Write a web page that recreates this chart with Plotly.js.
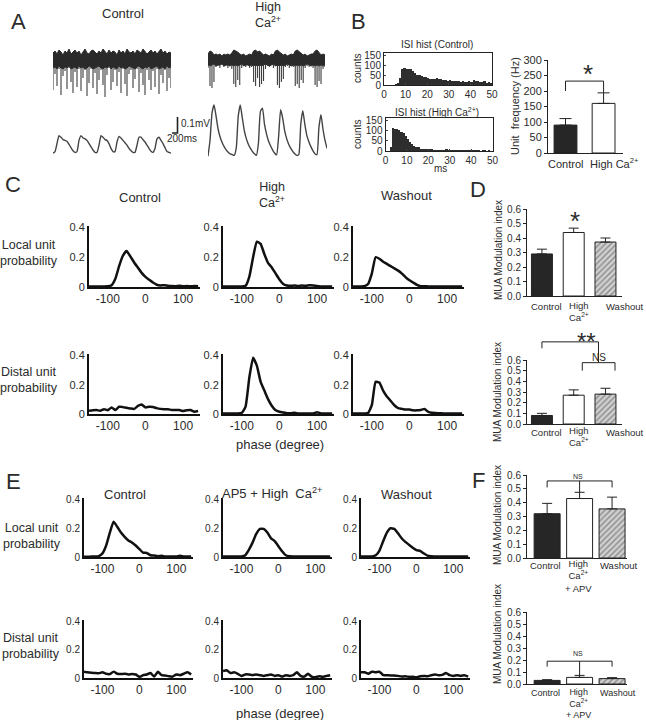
<!DOCTYPE html>
<html><head><meta charset="utf-8">
<script src="https://cdn.plot.ly/plotly-3.0.1.min.js"></script>
<style>html,body{margin:0;padding:0;background:#fff}#chart{width:646px;height:720px}</style>
</head><body><div id="chart"></div>
<script>
// ================= DATA =================
// Panel A: raw unit trace (arbitrary units): upper edge, lower edge of noise band, spike depths; LFP (mV)
const spikeCtrlTop=[7,9,6,10,8,5,9,7,11,6,8,10,7,9,5,8,11,7,6,9,10,8,6,9,7,11,8,6,10,7,9,8,5,10,7,9,6,11,8,7,9,6,10,8,7,11,9,6,8,10,7,9,6,8,11,7,9,6,8,7];
const spikeCtrlBand=[-8,-7,-9,-6,-8,-9,-7,-8,-6,-9,-8,-7,-9,-6,-8,-7,-9,-8,-6,-7,-9,-8,-7,-6,-8,-9,-7,-8,-6,-9,-7,-8,-9,-6,-8,-7,-9,-8,-6,-7,-8,-9,-7,-6,-8,-9,-7,-8,-6,-9,-8,-7,-6,-9,-8,-7,-9,-6,-8,-7];
const spikeCtrlBot=[-30,-14,-26,-9,-35,-16,-11,-29,-8,-22,-33,-12,-27,-9,-31,-18,-10,-36,-23,-9,-28,-13,-34,-20,-10,-25,-37,-15,-8,-30,-22,-10,-26,-12,-33,-9,-24,-36,-14,-10,-28,-19,-9,-32,-13,-25,-35,-10,-20,-30,-11,-27,-9,-34,-15,-23,-10,-31,-18,-28];
const spikeCaTop=[6,9,8,5,6,5,6,4,6,5,6,5,7,10,9,8,6,5,6,4,5,6,5,9,10,8,9,7,5,6,5,4,6,5,9,10,8,6,5,6,4,5,6,5,9,10,8,7,5,6,4,5,6,6,9,10,8,5,6,5];
const spikeCaBand=[-5,-6,-5,-4,-6,-5,-5,-4,-6,-5,-5,-6,-5,-6,-5,-6,-5,-4,-6,-5,-5,-6,-5,-6,-5,-6,-5,-6,-5,-4,-5,-6,-5,-4,-6,-5,-6,-5,-6,-5,-4,-5,-6,-5,-6,-5,-6,-5,-6,-5,-4,-5,-6,-5,-6,-5,-6,-5,-6,-5];
const spikeCaBot=[-8,-26,-28,-22,-7,-6,-8,-5,-7,-6,-8,-6,-9,-24,-27,-20,-25,-8,-6,-7,-5,-8,-7,-22,-26,-18,-27,-24,-21,-9,-6,-7,-5,-8,-6,-25,-28,-22,-19,-7,-6,-8,-5,-7,-26,-24,-28,-20,-23,-8,-6,-7,-5,-8,-25,-27,-21,-24,-9,-7];
const lfpCtrl=[0,0.01,0.06,0.11,0.1,0.085,0.08,0.075,0.055,0.035,0.015,0.005,0.01,0.08,0.11,0.095,0.09,0.08,0.06,0.04,0.02,0.005,0.005,0.05,0.11,0.1,0.085,0.08,0.06,0.03,0.01,0.01,0.07,0.105,0.095,0.08,0.065,0.05,0.03,0.015,0.005,0.005,0.05,0.1,0.1,0.085,0.07,0.05,0.03,0.012,0.005,0.03,0.09,0.1,0.08,0.06,0.035,0.01,0.005,0];
const lfpCa=[0,0.1,0.27,0.32,0.25,0.17,0.12,0.085,0.06,0.04,0.025,0.015,0.01,0.005,0.05,0.25,0.32,0.24,0.16,0.11,0.075,0.05,0.03,0.015,0.005,0.08,0.28,0.3,0.2,0.14,0.095,0.065,0.04,0.02,0.008,0.12,0.29,0.24,0.16,0.11,0.075,0.05,0.03,0.015,0.005,0.01,0.2,0.285,0.2,0.13,0.09,0.06,0.035,0.015,0.01,0.18,0.26,0.17,0.1,0.05];

// Panel B: ISI histograms (1 ms bins, left edges) and unit frequency
const isiBinMs=[0,1,2,3,4,5,6,7,8,9,10,11,12,13,14,15,16,17,18,19,20,21,22,23,24,25,26,27,28,29,30,31,32,33,34,35,36,37,38,39,40,41,42,43,44,45,46,47,48,49];
const isiControl=[0,0,0,0,2,5,12,35,80,86,82,78,80,70,62,52,50,45,40,42,35,30,28,30,33,30,28,25,25,20,25,22,18,20,18,15,18,15,15,20,15,25,20,18,15,15,18,12,15,12];
const isiHighCa=[0,0,20,110,108,105,100,92,85,72,60,45,35,25,20,18,12,10,10,12,8,8,6,5,6,5,4,5,8,6,4,3,4,3,4,3,3,4,3,4,3,4,3,3,2,3,3,2,3,2];
const isiTicksX=[0,10,20,30,40,50];
const isiTicksY=[0,50,100,150];
const freqCats=['Control','High Ca<sup>2+</sup>'];
const freqMean=[90,160];
const freqErr=[21,34];

// Panels C/E: phase histograms
const phaseDeg=[-150,-140,-130,-120,-110,-100,-90,-80,-70,-60,-50,-40,-30,-20,-10,0,10,20,30,40,50,60,70,80,90,100,110,120,130,140];
const phaseTicks=[-100,0,100];
const probTicks=[0,0.2,0.4];
const cLocalControl=[0.003,0.003,0.003,0.004,0.004,0.005,0.012,0.055,0.14,0.21,0.242,0.205,0.165,0.13,0.095,0.068,0.048,0.03,0.015,0.01,0.012,0.008,0.006,0.005,0.008,0.005,0.006,0.005,0.006,0.005];
const cLocalHighCa=[0.003,0.003,0.003,0.003,0.003,0.004,0.008,0.07,0.2,0.305,0.29,0.22,0.16,0.13,0.09,0.05,0.02,0.01,0.008,0.01,0.006,0.01,0.008,0.012,0.01,0.006,0.004,0.004,0.003,0.003];
const cLocalWashout=[0.003,0.003,0.004,0.006,0.02,0.09,0.2,0.19,0.17,0.155,0.14,0.125,0.11,0.09,0.065,0.045,0.03,0.015,0.006,0.005,0.004,0.004,0.003,0.003,0.003,0.003,0.003,0.003,0.003,0.003];
const cDistalControl=[0.022,0.025,0.027,0.022,0.033,0.026,0.045,0.027,0.05,0.047,0.042,0.038,0.035,0.055,0.065,0.045,0.05,0.048,0.04,0.035,0.033,0.032,0.028,0.027,0.027,0.02,0.025,0.027,0.015,0.02];
const cDistalHighCa=[0.003,0.003,0.003,0.003,0.003,0.008,0.05,0.25,0.385,0.33,0.22,0.16,0.1,0.055,0.025,0.015,0.01,0.006,0.005,0.008,0.004,0.004,0.003,0.004,0.004,0.012,0.004,0.003,0.003,0.003];
const cDistalWashout=[0.003,0.003,0.004,0.004,0.006,0.06,0.22,0.215,0.16,0.12,0.09,0.06,0.04,0.035,0.03,0.03,0.025,0.025,0.028,0.035,0.015,0.008,0.006,0.005,0.004,0.004,0.004,0.003,0.003,0.003];
const eLocalControl=[0.002,0.002,0.003,0.003,0.006,0.025,0.08,0.17,0.245,0.21,0.17,0.14,0.115,0.1,0.08,0.055,0.03,0.028,0.012,0.01,0.006,0.008,0.004,0.004,0.004,0.004,0.008,0.004,0.004,0.004];
const eLocalAP5=[0.003,0.003,0.003,0.003,0.003,0.004,0.012,0.05,0.1,0.16,0.195,0.195,0.17,0.13,0.11,0.075,0.04,0.012,0.005,0.004,0.004,0.003,0.003,0.003,0.003,0.003,0.003,0.003,0.003,0.003];
const eLocalWashout=[0.003,0.003,0.003,0.004,0.012,0.045,0.11,0.17,0.2,0.195,0.165,0.13,0.105,0.085,0.065,0.048,0.042,0.025,0.01,0.005,0.004,0.003,0.003,0.003,0.003,0.003,0.003,0.003,0.003,0.003];
const eDistalControl=[0.045,0.04,0.037,0.035,0.033,0.04,0.03,0.028,0.045,0.03,0.028,0.03,0.025,0.028,0.025,0.008,0.02,0.025,0.035,0.01,0.045,0.02,0.018,0.012,0.01,0.025,0.02,0.03,0.04,0.025];
const eDistalAP5=[0.05,0.055,0.035,0.04,0.03,0.015,0.025,0.025,0.02,0.025,0.02,0.015,0.02,0.025,0.015,0.02,0.01,0.02,0.015,0.02,0.04,0.015,0.01,0.03,0.01,0.005,0.012,0.008,0.015,0.02];
const eDistalWashout=[0.04,0.04,0.03,0.045,0.04,0.045,0.02,0.02,0.018,0.018,0.015,0.01,0.012,0.008,0.008,0.005,0.012,0.015,0.012,0.02,0.025,0.02,0.022,0.035,0.02,0.015,0.02,0.015,0.02,0.01];

// Panels D/F: MUA modulation index
const muaCats=['Control','High<br>Ca<sup>2+</sup>','Washout'];
const muaCatsAPV=['Control','High<br>Ca<sup>2+</sup><br>+ APV','Washout'];
const muaTicks=[0,0.1,0.2,0.3,0.4,0.5,0.6];
const dLocalMean=[0.29,0.438,0.372];
const dLocalErr=[0.033,0.03,0.028];
const dDistalMean=[0.08,0.27,0.28];
const dDistalErr=[0.02,0.05,0.055];
const fLocalMean=[0.32,0.43,0.355];
const fLocalErr=[0.075,0.045,0.085];
const fDistalMean=[0.03,0.055,0.045];
const fDistalErr=[0.006,0.017,0.008];

// ================= LAYOUT =================
const W=646,H=720;
const FONT='Liberation Sans, Arial, Helvetica, sans-serif';
const INK='#2b2b2b';
const layout={width:W,height:H,margin:{l:0,r:0,t:0,b:0,pad:0},showlegend:false,
  paper_bgcolor:'#fff',plot_bgcolor:'rgba(0,0,0,0)',font:{family:FONT,color:INK,size:11},
  annotations:[],shapes:[],bargap:0};
const traces=[];
let axN=0;
function axes(xdPx,ydPx,xo,yo){
  axN++; const s=axN===1?'':String(axN);
  layout['xaxis'+s]=Object.assign({domain:[xdPx[0]/W,xdPx[1]/W],anchor:'y'+s,showgrid:false,zeroline:false,fixedrange:true,tickangle:0},xo);
  layout['yaxis'+s]=Object.assign({domain:[1-ydPx[1]/H,1-ydPx[0]/H],anchor:'x'+s,showgrid:false,zeroline:false,fixedrange:true},yo);
  return {x:'x'+s,y:'y'+s};
}
function ann(text,px,py,size,o){
  layout.annotations.push(Object.assign({text:text,x:px/W,y:1-py/H,xref:'paper',yref:'paper',showarrow:false,
    font:{family:FONT,size:size,color:INK},xanchor:'center',yanchor:'middle',align:'center',borderpad:0},o||{}));
}
function pathPx(pts,w){
  const d=pts.map((p,i)=>(i?'L':'M')+(p[0]/W).toFixed(5)+','+(1-p[1]/H).toFixed(5)).join(' ');
  layout.shapes.push({type:'path',path:d,xref:'paper',yref:'paper',line:{color:'#222',width:w||1}});
}
function mapper(xd,xr,yd,yr){return {px:c=>xd[0]+(c-xr[0])/(xr[1]-xr[0])*(xd[1]-xd[0]),py:v=>yd[1]-(v-yr[0])/(yr[1]-yr[0])*(yd[1]-yd[0])};}

// ---------- Panel A ----------
const hid=r=>({visible:false,range:r});
function rawTrace(xd,top,band,depth){
  const ax=axes(xd,[48,98],hid([0,59]),hid([-38,12]));
  const idx=top.map((_,i)=>i);
  traces.push({type:'scatter',mode:'lines',x:idx,y:top,xaxis:ax.x,yaxis:ax.y,line:{color:'#2a2a2a',width:1},hoverinfo:'skip'});
  traces.push({type:'scatter',mode:'lines',x:idx,y:band,xaxis:ax.x,yaxis:ax.y,fill:'tonexty',fillcolor:'#2a2a2a',line:{color:'#2a2a2a',width:1},hoverinfo:'skip'});
  const sx=[],sy=[];depth.forEach((d,i)=>{sx.push(i,i,null);sy.push(band[i],d,null);});
  traces.push({type:'scatter',mode:'lines',x:sx,y:sy,xaxis:ax.x,yaxis:ax.y,line:{color:'#3c3c3c',width:1.1},hoverinfo:'skip'});
}
rawTrace([53,171],spikeCtrlTop,spikeCtrlBand,spikeCtrlBot);
rawTrace([208,325],spikeCaTop,spikeCaBand,spikeCaBot);
let a=axes([53,171],[98,158],hid([0,59]),hid([-0.03,0.345]));
traces.push({type:'scatter',mode:'lines',y:lfpCtrl,xaxis:a.x,yaxis:a.y,line:{color:'#444',width:1.4,shape:'spline',smoothing:0.5},hoverinfo:'skip'});
a=axes([208,327],[101,161],hid([0,59]),hid([-0.03,0.345]));
traces.push({type:'scatter',mode:'lines',y:lfpCa,xaxis:a.x,yaxis:a.y,line:{color:'#444',width:1.4,shape:'spline',smoothing:0.5},hoverinfo:'skip'});
pathPx([[172,133],[177.5,133],[177.5,117]],1.6);
ann('A',18,21,22);
ann('Control',123,13,13);
ann('High<br>Ca<sup>2+</sup>',268,15,12.5);
ann('0.1mV',180,123,10,{xanchor:'left'});
ann('200ms',166,138,10,{xanchor:'left'});

// ---------- Panel B ----------
function histAx(xd,yd){
  return axes(xd,yd,{range:[0,50],showline:true,mirror:true,linecolor:'#222',linewidth:1,ticks:'inside',ticklen:2,tickvals:isiTicksX,tickfont:{size:10,color:INK}},
    {range:[0,160],showline:true,mirror:true,linecolor:'#222',linewidth:1,ticks:'inside',ticklen:2,tickvals:isiTicksY,tickfont:{size:10,color:INK}});
}
a=histAx([384,492],[53,85]);
traces.push({type:'bar',x:isiBinMs,y:isiControl,width:1,offset:0,xaxis:a.x,yaxis:a.y,marker:{color:'#2e2e2e',line:{width:0}},hoverinfo:'skip'});
a=histAx([385.5,492.5],[118,151]);
traces.push({type:'bar',x:isiBinMs,y:isiHighCa,width:1,offset:0,xaxis:a.x,yaxis:a.y,marker:{color:'#2e2e2e',line:{width:0}},hoverinfo:'skip'});
ann('B',358,21,22);
ann('ISI hist (Control)',437,44,10);
ann('ISI hist (High Ca<sup>2+</sup>)',437,112,10);
ann('counts',357,69,10,{textangle:-90});
ann('counts',357,135,10,{textangle:-90});
ann('ms',440,168,10);

const bX=[548,623], bXR=[-0.46,1.51], bY=[60,153], bYR=[0,300];
a=axes(bX,bY,{range:bXR,showline:true,linecolor:'#222',linewidth:1,ticks:'',showticklabels:false},
  {range:bYR,showline:true,linecolor:'#222',linewidth:1,ticks:'outside',ticklen:3,tickcolor:'#222',dtick:50,tickfont:{size:11,color:INK}});
traces.push({type:'bar',x:[0,1],y:freqMean,width:0.6,xaxis:a.x,yaxis:a.y,marker:{color:['#262626','#ffffff'],line:{color:'#222',width:1}},
  error_y:{type:'data',symmetric:false,array:freqErr,arrayminus:[0,0],color:'#222',thickness:1,width:6},hoverinfo:'skip'});
let m=mapper(bX,bXR,bY,bYR);
ann(freqCats[0],565,164,11);
ann(freqCats[1],614,163,11);
pathPx([[m.px(0),m.py(200)],[m.px(0),m.py(232)],[m.px(1),m.py(232)],[m.px(1),m.py(freqMean[1]+freqErr[1])]]);
ann('*',588,74,26);
ann('Unit  frequency (Hz)',515,106,11,{textangle:-90});

// ---------- Panels C and E ----------
function phasePanel(xd,yd,vals,yfs){
  const ax=axes(xd,yd,{range:[-150,145],showline:true,linewidth:2,linecolor:'#111',ticks:'',tickvals:phaseTicks,ticktext:phaseTicks.map(String),tickfont:{size:12,color:INK}},
    {range:[0,0.41],showline:true,linewidth:2,linecolor:'#111',ticks:'',tickvals:probTicks,ticktext:probTicks.map(String),tickfont:{size:yfs,color:INK}});
  traces.push({type:'scatter',mode:'lines',x:phaseDeg,y:vals,xaxis:ax.x,yaxis:ax.y,line:{color:'#111',width:2.5,shape:'spline',smoothing:0.4},hoverinfo:'skip'});
}
phasePanel([89,200],[226,287],cLocalControl,11);
phasePanel([223,334],[226,287],cLocalHighCa,11);
phasePanel([353,464],[226,287],cLocalWashout,11);
phasePanel([89,200],[354,414],cDistalControl,11);
phasePanel([223,334],[354,414],cDistalHighCa,11);
phasePanel([353,464],[354,414],cDistalWashout,11);
phasePanel([84,193],[498,557],eLocalControl,10);
phasePanel([223,332],[498,557],eLocalAP5,10);
phasePanel([361,470],[498,557],eLocalWashout,10);
phasePanel([84,193],[620,678],eDistalControl,10);
phasePanel([223,332],[620,678],eDistalAP5,10);
phasePanel([361,470],[620,678],eDistalWashout,10);

ann('C',13,184,22);
ann('Control',140,197,13);
ann('High<br>Ca<sup>2+</sup>',272,195,12.5);
ann('Washout',407,196,13);
ann('Local unit<br>probability',29,253,12.5);
ann('Distal unit<br>probability',29,380,12.5);
ann('phase (degree)',280,444,13);
ann('E',13,482,22);
ann('Control',125,494,13);
ann('AP5 + High  Ca<sup>2+</sup>',272,493,13);
ann('Washout',406,494,13);
ann('Local unit<br>probability',32,536,12.5);
ann('Distal unit<br>probability',31,646,12.5);
ann('phase (degree)',280,713,13);

// ---------- Panels D and F ----------
function muaPanel(xd,xr,yd,mean,err,bw){
  const ax=axes(xd,yd,{range:xr,showline:true,linecolor:'#222',linewidth:1,ticks:'',showticklabels:false},
    {range:[0,0.6],showline:true,linecolor:'#222',linewidth:1,ticks:'outside',ticklen:3,tickcolor:'#222',tickvals:muaTicks,ticktext:muaTicks.map(v=>v.toFixed(1)),tickfont:{size:10,color:INK}});
  traces.push({type:'bar',x:[0,1,2],y:mean,width:bw,xaxis:ax.x,yaxis:ax.y,
    marker:{color:['#262626','#ffffff','#d0d0d0'],line:{color:'#222',width:1},
      pattern:{shape:['','','/'],fgcolor:'#3a3a3a',bgcolor:'#d0d0d0',size:4,solidity:0.35,fillmode:'overlay'}},
    error_y:{type:'data',symmetric:false,array:err,arrayminus:[0,0,0],color:'#222',thickness:1,width:5},hoverinfo:'skip'});
  return mapper(xd,xr,yd,[0,0.6]);
}
// category labels: single-line labels at py1, multi-line label block centred at pyMid
function catLabels(cats,xs,py1,pyMid,fs){cats.forEach((t,i)=>ann(t,xs[i],t.indexOf('<br>')>=0?pyMid:py1,fs));}
const dX=[527,622], dXR=[-0.47,2.52];
m=muaPanel(dX,dXR,[209,296],dLocalMean,dLocalErr,0.66);
catLabels(muaCats,[546,579,624],306,311,9.5);
ann('*',575,221,26);
m=muaPanel(dX,dXR,[360,424],dDistalMean,dDistalErr,0.66);
catLabels(muaCats,[546,579,624],432,437,9.5);
pathPx([[m.px(0),m.py(0.71)],[m.px(0),m.py(0.77)],[m.px(1.78),m.py(0.77)],[m.px(1.78),m.py(0.575)]]);
pathPx([[m.px(1.27),m.py(0.5)],[m.px(1.27),m.py(0.575)],[m.px(2.3),m.py(0.575)],[m.px(2.3),m.py(0.5)]]);
ann('**',586,341,24);
ann('NS',599,357,10);
ann('D',478,190,22);
ann('MUA Modulation index',498,250,10,{textangle:-90});
ann('MUA Modulation index',498,392,10,{textangle:-90});

const fX=[527,627], fXR=[-0.62,2.46];
m=muaPanel(fX,fXR,[475,558],fLocalMean,fLocalErr,0.8);
catLabels(muaCatsAPV,[545,578,618],565,576,9.5);
pathPx([[m.px(0),m.py(0.51)],[m.px(0),m.py(0.557)],[m.px(2),m.py(0.557)],[m.px(2),m.py(0.51)]]);
pathPx([[m.px(1),m.py(0.557)],[m.px(1),m.py(fLocalMean[1]+fLocalErr[1])]]);
ann('NS',578,476,7);
m=muaPanel(fX,fXR,[612,684],fDistalMean,fDistalErr,0.8);
catLabels(muaCatsAPV,[545,578,618],693,703,9);
pathPx([[m.px(0),m.py(0.145)],[m.px(0),m.py(0.19)],[m.px(2),m.py(0.19)],[m.px(2),m.py(0.145)]]);
pathPx([[m.px(1),m.py(0.19)],[m.px(1),m.py(fDistalMean[1]+fDistalErr[1])]]);
ann('NS',578,653,7);
ann('F',478,481,22);
ann('MUA Modulation index',497,515,10,{textangle:-90});
ann('MUA Modulation index',497,634,10,{textangle:-90});

Plotly.newPlot('chart',traces,layout,{staticPlot:true,displayModeBar:false});
</script></body></html>
